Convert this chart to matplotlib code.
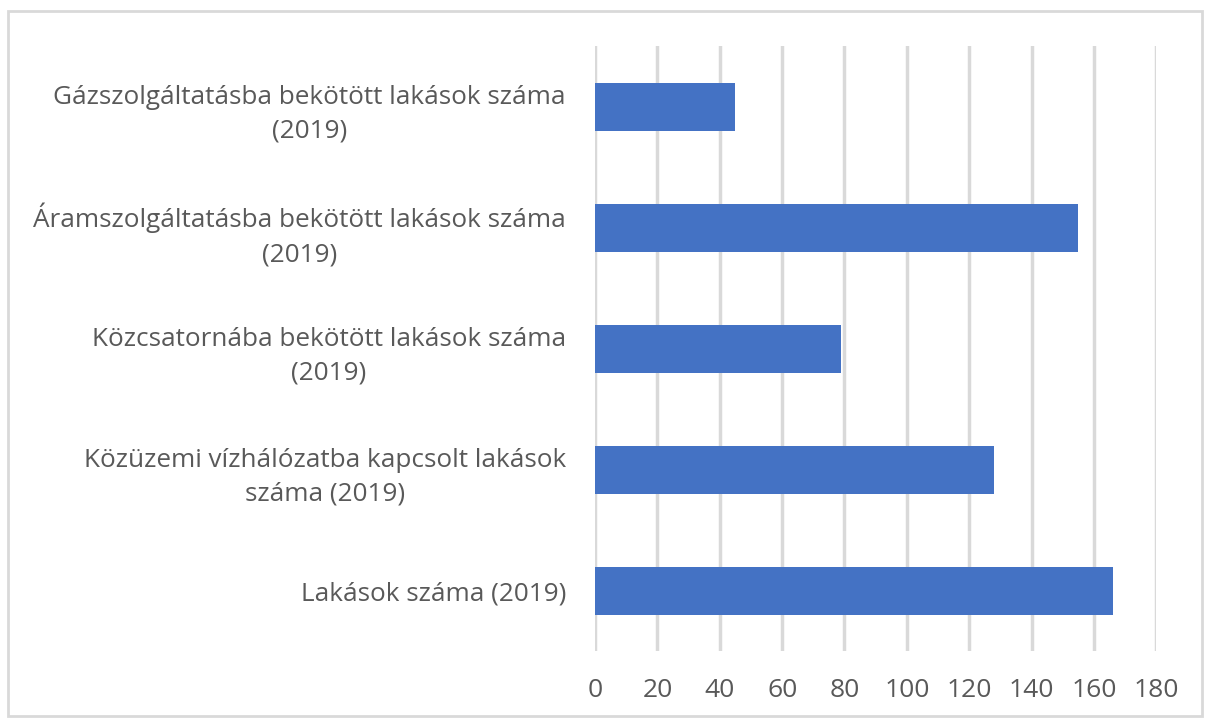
import matplotlib
matplotlib.use('Agg')
import matplotlib.pyplot as plt
from matplotlib.patches import Rectangle

# categories listed bottom to top
categories = ['Lakások száma (2019)',
              'Közüzemi vízhálózatba kapcsolt lakások\nszáma (2019)',
              'Közcsatornába bekötött lakások száma\n(2019)',
              'Áramszolgáltatásba bekötött lakások száma\n(2019)',
              'Gázszolgáltatásba bekötött lakások száma\n(2019)']
values = [166, 128, 79, 155, 45]
xticks = [0, 20, 40, 60, 80, 100, 120, 140, 160, 180]

plt.rcParams['font.family'] = ['Open Sans', 'DejaVu Sans']

fig = plt.figure(figsize=(12.12, 7.22), dpi=100)
ax = fig.add_axes([0.491, 0.098, 0.463, 0.838])

ax.barh(range(len(categories)), values, height=0.4, color='#4472C4', zorder=3)

ax.set_xlim(0, 180)
ax.set_ylim(-0.5, len(categories) - 0.5)
ax.set_xticks(xticks)
ax.set_yticks(range(len(categories)))
ax.set_yticklabels(categories, multialignment='center', linespacing=1.45)

ax.grid(True, axis='x', color='#d9d9d9', lw=2.5, zorder=0)
for s in ax.spines.values():
    s.set_visible(False)

ax.tick_params(axis='x', length=0, pad=19, labelsize=19, labelcolor='#595959')
ax.tick_params(axis='y', length=0, pad=21, labelsize=18.8, labelcolor='#595959')

# light outer frame round the chart
fig.patches.append(Rectangle((8 / 1212, 6 / 722), 1194 / 1212, 705 / 722,
                             transform=fig.transFigure, fill=False,
                             edgecolor='#d9d9d9', lw=2))

fig.savefig('out.png', dpi=100)
